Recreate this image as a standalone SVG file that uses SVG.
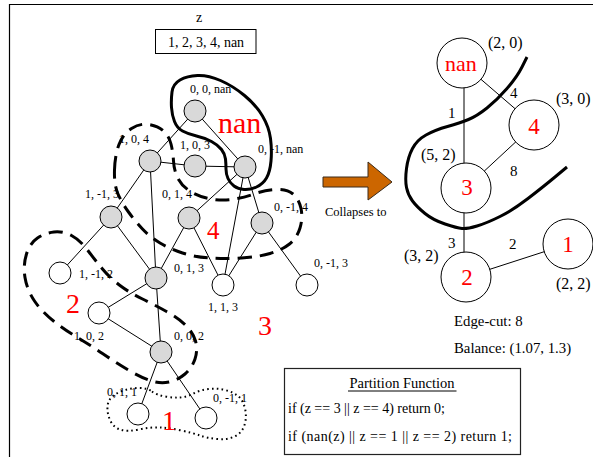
<svg xmlns="http://www.w3.org/2000/svg" width="593" height="457" viewBox="0 0 593 457">
<style>
text { font-family: "Liberation Serif", "Times New Roman", serif; fill: #000; }
.lbl { font-size: 12px; }
.red { fill: #ff0000; }
.edge { stroke: #000; stroke-width: 1; fill: none; }
.gn { fill: #d9d9d9; stroke: #000; stroke-width: 1; }
.wn { fill: #fff; stroke: #000; stroke-width: 1; }
.big { fill: #fff; stroke: #000; stroke-width: 1; }
.dash { fill: none; stroke: #000; stroke-width: 3; stroke-dasharray: 14 8; }
.solid { fill: none; stroke: #000; stroke-width: 3; }
.dot { fill: none; stroke: #000; stroke-width: 2; stroke-dasharray: 1.6 3.2; }
.coord { font-size: 16px; }
.elbl { font-size: 15px; }
</style>
<rect x="0" y="0" width="593" height="457" fill="#fff"/>
<!-- frame -->
<path d="M9.5,457 L9.5,4.5 L593,4.5" fill="none" stroke="#000" stroke-width="1.2"/>

<!-- top key -->
<g id="zkey">
<text x="199" y="22" font-size="14" text-anchor="middle">z</text>
<rect x="155.5" y="29.5" width="100.5" height="24" fill="#fff" stroke="#000" stroke-width="1"/>
<text x="206" y="46.5" font-size="14" text-anchor="middle">1, 2, 3, 4, nan</text>
</g>

<!-- left graph connectors -->
<g id="left-edges" class="edge">
<line x1="195" y1="111" x2="150" y2="161"/>
<line x1="195" y1="111" x2="245" y2="167"/>
<line x1="150" y1="161" x2="195" y2="166"/>
<line x1="195" y1="166" x2="245" y2="167"/>
<line x1="150" y1="161" x2="111" y2="217"/>
<line x1="150" y1="161" x2="156" y2="278"/>
<line x1="245" y1="167" x2="189" y2="218"/>
<line x1="245" y1="167" x2="223" y2="285"/>
<line x1="245" y1="167" x2="262" y2="223"/>
<line x1="111" y1="217" x2="60" y2="273"/>
<line x1="111" y1="217" x2="156" y2="278"/>
<line x1="189" y1="218" x2="156" y2="278"/>
<line x1="189" y1="218" x2="223" y2="285"/>
<line x1="262" y1="223" x2="223" y2="285"/>
<line x1="262" y1="223" x2="307" y2="285"/>
<line x1="156" y1="278" x2="99" y2="313"/>
<line x1="156" y1="278" x2="161" y2="352"/>
<line x1="99" y1="313" x2="161" y2="352"/>
<line x1="161" y1="352" x2="138" y2="414"/>
<line x1="161" y1="352" x2="206" y2="418"/>
</g>

<!-- left graph nodes -->
<g id="n-0-0-nan"><circle class="gn" cx="195" cy="111" r="11"/><text class="lbl" x="190" y="93">0, 0, nan</text></g>
<g id="n-1-0-4"><circle class="gn" cx="150" cy="161" r="11"/><text class="lbl" x="119" y="143">1, 0, 4</text></g>
<g id="n-1-0-3"><circle class="gn" cx="195" cy="166" r="11"/><text class="lbl" x="180" y="149">1, 0, 3</text></g>
<g id="n-0-m1-nan"><circle class="gn" cx="245" cy="167" r="11"/><text class="lbl" x="258" y="153">0, -1, nan</text></g>
<g id="n-1-m1-3"><circle class="gn" cx="111" cy="217" r="11"/><text class="lbl" x="85" y="198">1, -1, 3</text></g>
<g id="n-0-1-4"><circle class="gn" cx="189" cy="218" r="11"/><text class="lbl" x="162" y="198">0, 1, 4</text></g>
<g id="n-0-m1-4"><circle class="gn" cx="262" cy="223" r="11"/><text class="lbl" x="274" y="211">0, -1, 4</text></g>
<g id="n-1-m1-2"><circle class="wn" cx="60" cy="273" r="11"/><text class="lbl" x="79" y="278">1, -1, 2</text></g>
<g id="n-0-1-3"><circle class="gn" cx="156" cy="278" r="11"/><text class="lbl" x="174" y="272">0, 1, 3</text></g>
<g id="n-1-1-3"><circle class="wn" cx="223" cy="285" r="11"/><text class="lbl" x="208" y="311">1, 1, 3</text></g>
<g id="n-0-m1-3"><circle class="wn" cx="307" cy="285" r="11"/><text class="lbl" x="314" y="267">0, -1, 3</text></g>
<g id="n-1-0-2"><circle class="wn" cx="99" cy="313" r="11"/><text class="lbl" x="74" y="340">1, 0, 2</text></g>
<g id="n-0-0-2"><circle class="gn" cx="161" cy="352" r="11"/><text class="lbl" x="174" y="340">0, 0, 2</text></g>
<g id="n-0-1-1"><circle class="wn" cx="138" cy="414" r="11"/><text class="lbl" x="107" y="396">0, 1, 1</text></g>
<g id="n-0-m1-1"><circle class="wn" cx="206" cy="418" r="11"/><text class="lbl" x="213" y="402">0, -1, 1</text></g>

<!-- partition regions -->
<g id="regions">
<path class="solid" d="M172,92 Q173,84 180,80 Q187,76 197.5,75.5 Q208,75 220.5,80.5 Q233,86 244.5,95.5 Q256,105 262.5,116 Q269,127 270.5,138.5 Q272,150 271,161 Q270,172 266.5,178 Q263,184 256.5,187 Q250,190 244,189.5 Q238,189 234,186 Q230,183 228,178.5 Q226,174 226,169 Q226,164 225.5,159 Q225,154 221.5,149.5 Q218,145 211.5,141.5 Q205,138 196.5,136 Q188,134 182.5,131 Q177,128 174.5,121.5 Q172,115 171.5,107.5 Q171,100 172,92 Z"/>
<path class="dash" d="M114.5,170 Q115,155 119,144.5 Q123,134 131.5,128.5 Q140,123 149,124.5 Q158,126 163.5,131 Q169,136 171,144 Q173,152 173.5,161 Q174,170 177.5,177.5 Q181,185 189,190.5 Q197,196 208.5,198.5 Q220,201 231.5,199.5 Q243,198 254,194 Q265,190 276,189.5 Q287,189 293,194 Q299,199 301,208.5 Q303,218 300,228 Q297,238 289.5,244 Q282,250 270,253.5 Q258,257 241.5,258 Q225,259 210,258 Q195,257 182.5,253 Q170,249 160,243 Q150,237 142.5,229 Q135,221 128.5,212 Q122,203 118,194 Q114,185 114.5,170 Z"/>
<path class="dash" d="M71.5,235.5 Q80,240 87.5,250 Q95,260 102.5,269 Q110,278 120,285.5 Q130,293 142.5,299 Q155,305 166.5,311.5 Q178,318 185.5,325 Q193,332 195.5,341 Q198,350 195,359 Q192,368 185,374 Q178,380 169,382 Q160,384 150,380.5 Q140,377 127.5,369.5 Q115,362 102.5,353.5 Q90,345 77.5,337.5 Q65,330 53.5,321 Q42,312 34.5,301 Q27,290 25,277.5 Q23,265 26.5,254 Q30,243 37.5,238 Q45,233 54,232 Q63,231 71.5,235.5 Z"/>
<path class="dot" d="M152,391.5 Q157,395 165,396.5 Q173,398 180,397.5 Q187,397 193.5,393.5 Q200,390 208.5,389 Q217,388 225,390 Q233,392 238,396 Q243,400 245,408.5 Q247,417 244.5,425 Q242,433 234.5,436.5 Q227,440 217,439 Q207,438 200,435.5 Q193,433 181.5,430.5 Q170,428 160,427.5 Q150,427 138.5,429.5 Q127,432 120,429.5 Q113,427 110,420 Q107,413 107.5,406.5 Q108,400 113,396 Q118,392 125,390 Q132,388 139.5,388 Q147,388 152,391.5 Z"/>
<text class="red" x="218" y="133" font-size="30">nan</text>
<text class="red" x="207" y="239" font-size="25">4</text>
<text class="red" x="66" y="313" font-size="28">2</text>
<text class="red" x="258" y="335" font-size="28">3</text>
<text class="red" x="162" y="430" font-size="28">1</text>
</g>

<!-- collapse arrow -->
<g id="arrow">
<polygon points="323,177 368,177 368,162 392,182 368,200 368,187 323,187" fill="#cc6600" stroke="#3a2a1a" stroke-width="1"/>
<text x="325" y="216" font-size="12.5">Collapses to</text>
</g>

<!-- right graph connectors -->
<g id="right-edges" class="edge">
<line x1="464" y1="87" x2="464" y2="163"/>
<line x1="462" y1="63" x2="534" y2="125"/>
<line x1="534" y1="125" x2="466" y2="188"/>
<line x1="464" y1="212" x2="464" y2="253"/>
<line x1="466" y1="277" x2="568" y2="244"/>
</g>
<g id="right-edge-labels">
<text class="elbl" x="448" y="118">1</text>
<text class="elbl" x="510" y="98">4</text>
<text class="elbl" x="510" y="176">8</text>
<text class="elbl" x="448" y="248">3</text>
<text class="elbl" x="509" y="249">2</text>
</g>

<!-- right graph nodes -->
<g id="p-nan"><circle class="big" cx="462" cy="63" r="25"/><text class="red" x="461" y="71" font-size="22" text-anchor="middle">nan</text><text class="coord" x="488" y="48">(2, 0)</text></g>
<g id="p-4"><circle class="big" cx="534" cy="125" r="25"/><text class="red" x="534" y="134" font-size="23" text-anchor="middle">4</text><text class="coord" x="556" y="104">(3, 0)</text></g>
<g id="p-3"><circle class="big" cx="466" cy="188" r="25"/><text class="red" x="467" y="195" font-size="23" text-anchor="middle">3</text><text class="coord" x="421" y="160">(5, 2)</text></g>
<g id="p-2"><circle class="big" cx="466" cy="277" r="25"/><text class="red" x="467" y="285" font-size="23" text-anchor="middle">2</text><text class="coord" x="404" y="261">(3, 2)</text></g>
<g id="p-1"><circle class="big" cx="568" cy="244" r="25"/><text class="red" x="568" y="252" font-size="23" text-anchor="middle">1</text><text class="coord" x="556" y="289">(2, 2)</text></g>

<!-- cut curve -->
<path class="solid" d="M527,57 L522,67 Q517,77 507,88.5 Q497,100 487,108 Q477,116 468.5,119.5 Q460,123 447.5,126.5 Q435,130 426,135 Q417,140 412.5,148.5 Q408,157 406.5,168.5 Q405,180 406.5,187.5 Q408,195 412.5,201 Q417,207 425,213.5 Q433,220 445,224 Q457,228 462,228.5 Q467,229 477,226 Q487,223 500,216.5 Q513,210 528,198.5 Q543,187 555,177 L567,167"/>

<g id="stats">
<text x="454" y="326" font-size="14.8">Edge-cut: 8</text>
<text x="454" y="353" font-size="14.8">Balance: (1.07, 1.3)</text>
</g>

<g id="partition-box">
<rect x="284.5" y="368.5" width="236" height="86" fill="#fff" stroke="#222" stroke-width="1.2"/>
<text x="402" y="388" font-size="14.5" text-anchor="middle">Partition Function</text>
<line x1="348" y1="391" x2="456.5" y2="391" stroke="#000" stroke-width="1"/>
<text x="288" y="413" font-size="14" textLength="157" lengthAdjust="spacing">if (z == 3 || z == 4) return 0;</text>
<text x="288" y="441" font-size="14" textLength="224" lengthAdjust="spacing">if (nan(z) || z == 1 || z == 2) return 1;</text>
</g>
</svg>
